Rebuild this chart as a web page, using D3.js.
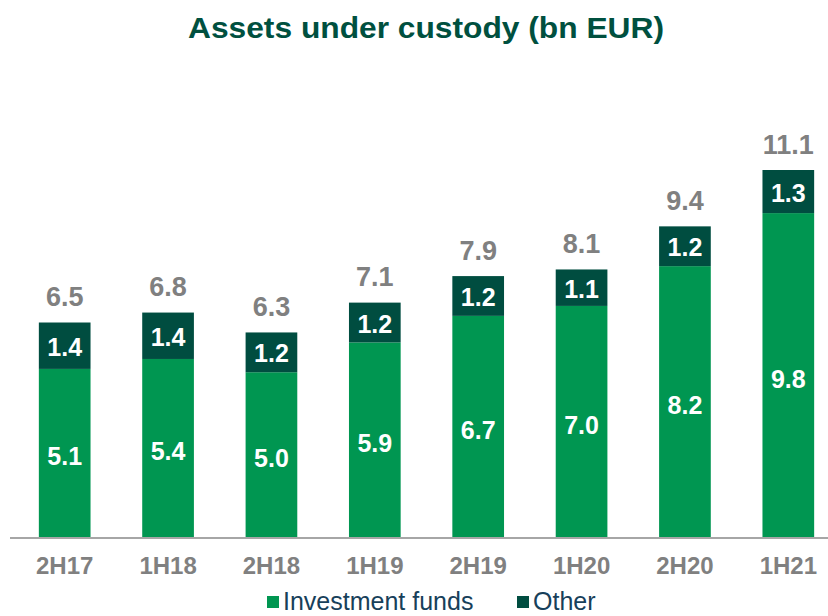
<!DOCTYPE html>
<html><head><meta charset="utf-8">
<script src="https://cdn.jsdelivr.net/npm/d3@7"></script>
<style>body{margin:0;background:#fff}svg{display:block}</style>
</head><body>
<svg id="c" width="828" height="616"></svg>
<script>
const categories = ["2H17","1H18","2H18","1H19","2H19","1H20","2H20","1H21"];
const investmentFunds = [5.1,5.4,5.0,5.9,6.7,7.0,8.2,9.8];
const other = [1.4,1.4,1.2,1.2,1.2,1.1,1.2,1.3];
const totals = [6.5,6.8,6.3,7.1,7.9,8.1,9.4,11.1];
const seriesNames = ["Investment funds","Other"];
const colors = ["#009651","#004D40"];

const svg = d3.select("#c");
const baseY = 538;
const x = d3.scaleBand().domain(categories).range([13, 840]).paddingInner(0.5).paddingOuter(0.25);
const y = d3.scaleLinear().domain([0, 11.1]).range([baseY, 170]);
const lf = "Liberation Sans, Arial, sans-serif";

svg.append("text").attr("x", 426).attr("y", 38).attr("text-anchor","middle")
  .attr("font-family",lf).attr("font-weight","bold")
  .attr("font-size", 30).attr("fill","#00503F")
  .attr("textLength", 476).attr("lengthAdjust","spacingAndGlyphs")
  .text("Assets under custody (bn EUR)");

const data = categories.map((c,i)=>({c, a: investmentFunds[i], b: other[i], t: totals[i]}));
const g = svg.append("g");
g.selectAll("rect.a").data(data).join("rect").attr("class","a")
  .attr("x", d=>x(d.c)).attr("width", x.bandwidth())
  .attr("y", d=>y(d.a)).attr("height", d=>baseY - y(d.a)).attr("fill", colors[0]);
g.selectAll("rect.b").data(data).join("rect").attr("class","b")
  .attr("x", d=>x(d.c)).attr("width", x.bandwidth())
  .attr("y", d=>y(d.a + d.b)).attr("height", d=>y(d.a) - y(d.a + d.b)).attr("fill", colors[1]);

g.selectAll("text.la").data(data).join("text").attr("class","la")
  .attr("x", d=>x(d.c)+x.bandwidth()/2).attr("y", d=>(y(d.a)+baseY)/2+3)
  .attr("dy","0.36em").attr("text-anchor","middle").attr("font-family",lf)
  .attr("font-weight","bold").attr("font-size",25).attr("fill","#fff")
  .text(d=>d.a.toFixed(1));
g.selectAll("text.lb").data(data).join("text").attr("class","lb")
  .attr("x", d=>x(d.c)+x.bandwidth()/2).attr("y", d=>(y(d.a)+y(d.a+d.b))/2+1)
  .attr("dy","0.36em").attr("text-anchor","middle").attr("font-family",lf)
  .attr("font-weight","bold").attr("font-size",25).attr("fill","#fff")
  .text(d=>d.b.toFixed(1));
g.selectAll("text.lt").data(data).join("text").attr("class","lt")
  .attr("x", d=>x(d.c)+x.bandwidth()/2).attr("y", d=>y(d.a+d.b)-26)
  .attr("dy","0.36em").attr("text-anchor","middle").attr("font-family",lf)
  .attr("font-weight","bold").attr("font-size",27).attr("fill","#808080")
  .text(d=>d.t.toFixed(1));

// axis
const ax = svg.append("g").attr("transform",`translate(0,${baseY})`)
  .call(d3.axisBottom(x).tickSize(0).tickPadding(24));
ax.select(".domain").remove();
ax.append("line").attr("x1",10).attr("x2",828).attr("y1",0).attr("y2",0)
  .attr("stroke","#A6A6A6").attr("stroke-width",2);
ax.selectAll(".tick text").attr("font-family",lf).attr("font-weight","bold")
  .attr("font-size",24).attr("fill","#808080").attr("dy","0.5em");

// legend
const leg = svg.append("g");
const items = [{n: seriesNames[0], c: colors[0], x: 267}, {n: seriesNames[1], c: colors[1], x: 517}];
leg.selectAll("rect").data(items).join("rect").attr("x", d=>d.x).attr("y", 596)
  .attr("width", 12).attr("height", 12).attr("fill", d=>d.c);
leg.selectAll("text").data(items).join("text").attr("x", d=>d.x+16).attr("y", 610)
  .attr("font-family","Liberation Sans Narrow, Arial Narrow, sans-serif")
  .attr("font-size",25).attr("fill","#17405A").text(d=>d.n);
</script>
</body></html>
